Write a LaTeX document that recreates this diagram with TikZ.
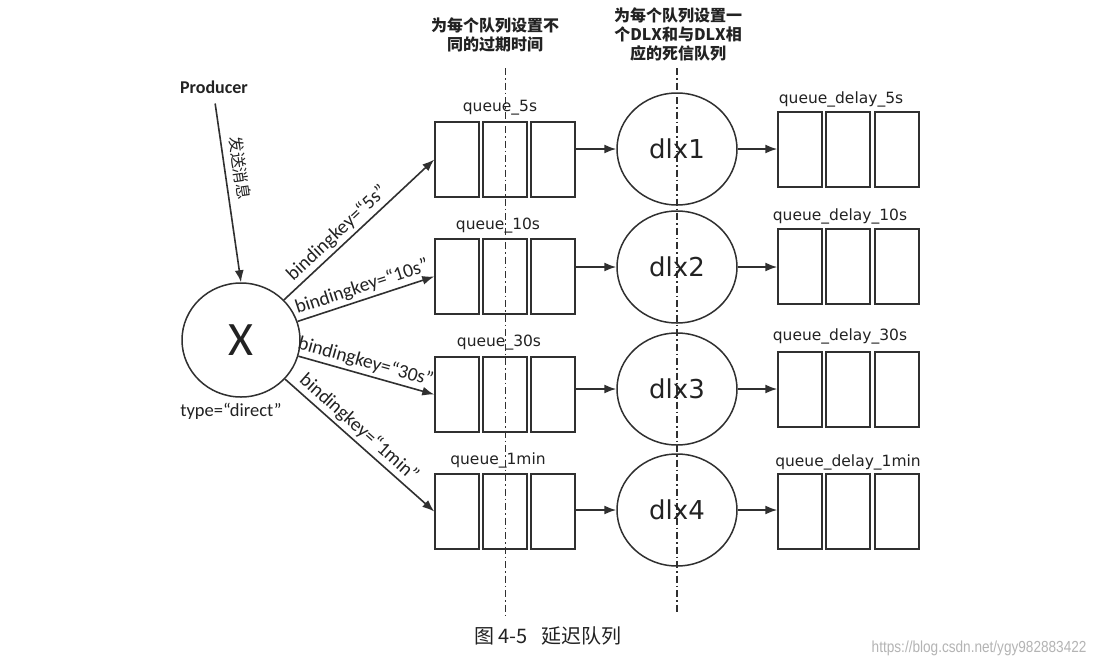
\documentclass[tikz,border=0pt]{standalone}
\usepackage{fontspec}
\setmainfont{Carlito}
\newfontfamily\dejavu{DejaVu Sans}
\newfontfamily\cjk{Noto Sans CJK SC}
\newfontfamily\libsans{Liberation Sans}
\usetikzlibrary{shapes.geometric,arrows.meta}
\definecolor{lc}{HTML}{303030}
\definecolor{tc}{HTML}{222222}
\definecolor{wm}{HTML}{B4B4B4}
\tikzset{
  ln/.style={draw=lc, line width=1.6pt},
  arr/.style={ln, -{Latex[length=12pt,width=9pt]}},
  qbox/.style={rectangle, draw=lc, line width=1.5pt, minimum width=44pt, minimum height=75pt, inner sep=0pt},
  dlxnode/.style={ellipse, draw=lc, line width=1.5pt, minimum width=120pt, minimum height=112pt, inner sep=0pt, font=\dejavu\fontsize{26}{30}\selectfont, text=tc},
  qlab/.style={font=\dejavu\fontsize{15.5}{18}\selectfont, text=tc, inner sep=0pt},
  bk/.style={font=\fontsize{19.5}{21}\selectfont, text=tc, sloped, above=2pt, inner sep=1pt},
  divider/.style={draw=lc, line width=1.3pt, dash pattern=on 7pt off 3pt on 1.5pt off 3pt},
  head/.style={font=\cjk\bfseries\fontsize{16}{19}\selectfont, text=tc, align=center, inner sep=0pt},
}
\begin{document}
\begin{tikzpicture}[x=1pt,y=-1pt]
\useasboundingbox (0,0) rectangle (1098,670);
\fill[white] (0,0) rectangle (1098,670);

% dividers
\draw[divider] (505.5,68) -- (505.5,615);
\draw[divider] (677,68) -- (677,612);

% headers
\node[head] (h1) at (495,35) {为每个队列设置不\\同的过期时间};
\node[head] (h2) at (678,34) {为每个队列设置一\\个DLX和与DLX相\\应的死信队列};

% producer and exchange
\node[font=\bfseries\fontsize{18}{20}\selectfont, text=tc, inner sep=2pt] (prod) at (214,87) {Producer};
\node[ellipse, draw=lc, line width=1.5pt, minimum width=118pt, minimum height=114pt, inner sep=0pt,
      font=\fontsize{48}{50}\selectfont, text=tc] (X) at (241,340) {X};
\node[font=\fontsize{18.5}{20}\selectfont, text=tc] (xtype) at (231,411) {type=“direct”};

\draw[arr, shorten <=8pt] (prod.south) -- node[sloped, above=6pt, pos=0.4, font=\cjk\fontsize{16}{18}\selectfont, text=tc, inner sep=1pt] {发送消息} (X.north);

% queues
\foreach \i/\y in {1/159.5, 2/276.5, 3/394.5, 4/511.5}{
  \node[qbox] (q\i a) at (457,\y) {};
  \node[qbox] (q\i b) at (505,\y) {};
  \node[qbox] (q\i c) at (553,\y) {};
}
\foreach \i/\y in {1/149.5, 2/266.5, 3/389.5, 4/511.5}{
  \node[qbox] (e\i a) at (800,\y) {};
  \node[qbox] (e\i b) at (848,\y) {};
  \node[qbox] (e\i c) at (897,\y) {};
}
% dlx
\node[dlxnode] (d1) at (677,149) {dlx1};
\node[dlxnode] (d2) at (677,267) {dlx2};
\node[dlxnode] (d3) at (677,389) {dlx3};
\node[dlxnode] (d4) at (677,510) {dlx4};

% labels
\node[qlab] (l1) at (500,108) {queue\_5s};
\node[qlab] (l2) at (498,226) {queue\_10s};
\node[qlab] (l3) at (499,343) {queue\_30s};
\node[qlab] (l4) at (498,460) {queue\_1min};
\node[qlab] (m1) at (841,99) {queue\_delay\_5s};
\node[qlab] (m2) at (840,216) {queue\_delay\_10s};
\node[qlab] (m3) at (840,336) {queue\_delay\_30s};
\node[qlab] (m4) at (848,462) {queue\_delay\_1min};

% binding arrows
\draw[arr] (X) -- node[bk, pos=0.41] {bindingkey=“5s”} (q1a.west);
\draw[arr] (X) -- node[bk, pos=0.5] {bindingkey=“10s”} (q2a.west);
\draw[arr] (X) -- node[bk, pos=0.47] {bindingkey=“30s”} (q3a.west);
\draw[arr] (X) -- node[bk, pos=0.44] {bindingkey=“1min”} (q4a.west);

% queue -> dlx -> delay
\foreach \i in {1,2,3,4}{
  \draw[arr] (q\i c.east |- d\i) -- (d\i.west);
  \draw[arr] (d\i.east) -- (d\i.east -| e\i a.west);
}

% caption and watermark
\node[font=\cjk\fontsize{20}{24}\selectfont, text=tc] (cap) at (548,636) {图\,4-5\hspace{14pt}延迟队列};
\node[font=\libsans\fontsize{16}{18}\selectfont, text=wm, anchor=east] (wmk) at (1090,648) {\scalebox{0.85}[1]{https://blog.csdn.net/ygy982883422}};
\end{tikzpicture}
\end{document}
